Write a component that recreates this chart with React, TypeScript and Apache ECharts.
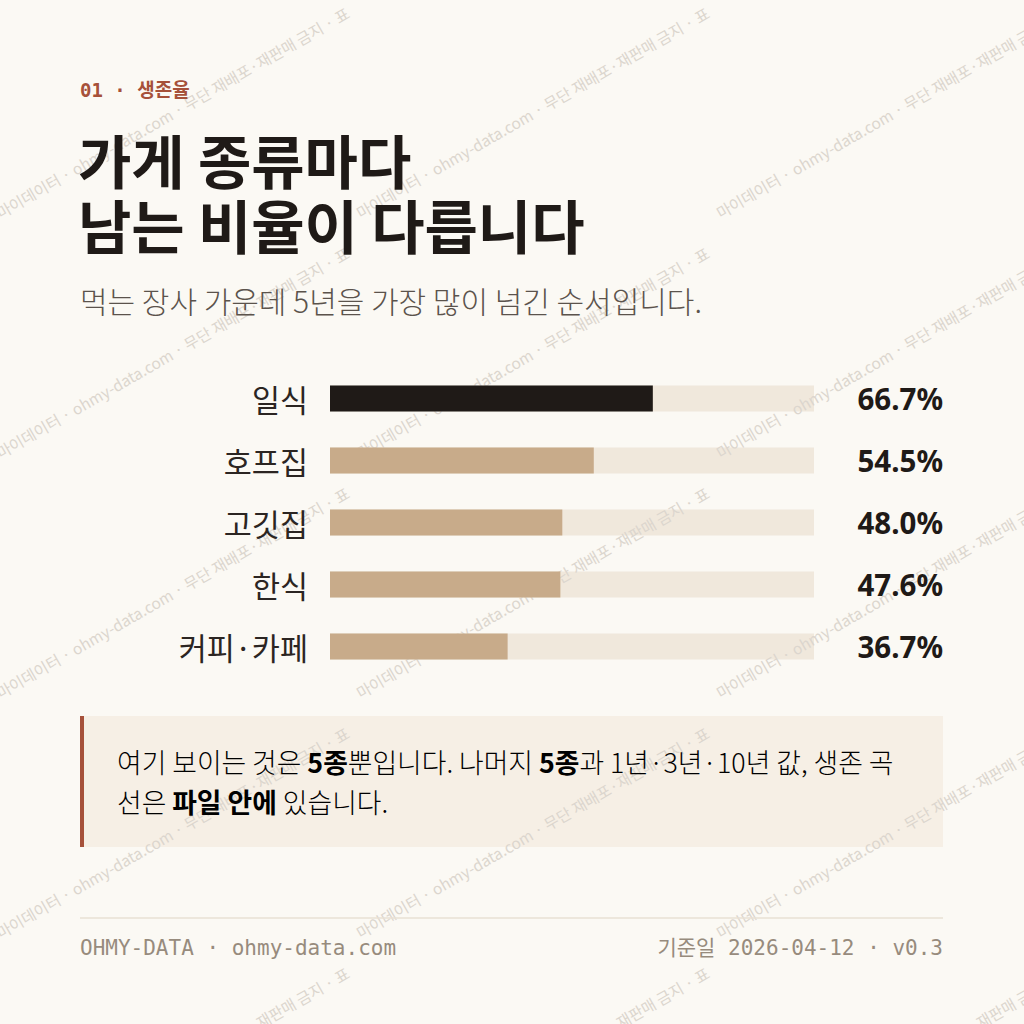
import React, { useEffect, useRef } from "react";
import * as echarts from "echarts";

// ---- data ----
const categories = ["일식", "호프집", "고깃집", "한식", "커피·카페"];
const survival5y = [66.7, 54.5, 48.0, 47.6, 36.7];
const valueLabels = survival5y.map((v) => v.toFixed(1) + "%");
const highlightIndex = 0;
const axisMax = 100;

const eyebrow = "01 · 생존율";
const titleLines = ["가게 종류마다", "남는 비율이 다릅니다"];
const subtitle = "먹는 장사 가운데 5년을 가장 많이 넘긴 순서입니다.";
const noteLine1 = "{n|여기 보이는 것은 }{b|5종}{n|뿐입니다. 나머지 }{b|5종}{n|과 1년·3년·10년 값, 생존 곡}";
const noteLine2 = "{n|선은 }{b|파일 안에}{n| 있습니다.}";
const footerLeft = "OHMY-DATA · ohmy-data.com";
const footerRight = "기준일 2026-04-12 · v0.3";
const watermarkText = "마이데이터 · ohmy-data.com · 무단 재배포·재판매 금지 · 표";

// ---- style ----
const BG = "#fbf9f4";
const INK = "#1f1a17";
const TAN = "#c8ab8a";
const TRACK = "#f0e8dc";
const RUST = "#a6513a";
const SANS = "'Noto Sans CJK KR', 'Noto Sans', sans-serif";
const MONO = "'DejaVu Sans Mono', 'Noto Sans CJK KR', monospace";

function buildWatermark() {
  const els: any[] = [];
  for (let i = 0; i < 3; i++) {
    for (let j = 0; j < 5; j++) {
      els.push({
        type: "text",
        x: i * 360 + 1,
        y: 220 + j * 240,
        rotation: Math.PI / 6,
        z: 2,
        silent: true,
        style: {
          text: watermarkText,
          font: `400 15.5px ${SANS}`,
          fill: "#dcd6ce",
          textAlign: "left",
          textVerticalAlign: "bottom",
        },
      });
    }
  }
  return els;
}

export default function App() {
  const ref = useRef<HTMLDivElement>(null);
  useEffect(() => {
    if (!ref.current) return;
    const chart = echarts.init(ref.current, undefined, { renderer: "svg" });
    const option: any = {
      animation: false,
      backgroundColor: BG,
      grid: { left: 330, width: 484, top: 367.5, height: 310 },
      xAxis: { type: "value", min: 0, max: axisMax, show: false },
      yAxis: [
        {
          type: "category",
          data: categories,
          inverse: true,
          z: 5,
          axisLine: { show: false },
          axisTick: { show: false },
          splitLine: { show: false },
          axisLabel: {
            margin: 22,
            fontSize: 30.5,
            color: "#2b2522",
            fontFamily: SANS,
          },
        },
        {
          type: "category",
          data: valueLabels,
          inverse: true,
          position: "right",
          z: 5,
          axisLine: { show: false },
          axisTick: { show: false },
          splitLine: { show: false },
          axisLabel: {
            margin: 129,
            align: "right",
            fontSize: 29.5,
            fontWeight: "bold",
            color: INK,
            fontFamily: "'Noto Sans', sans-serif",
          },
        },
      ],
      series: [
        {
          type: "bar",
          data: categories.map(() => axisMax),
          barWidth: 26,
          barGap: "-100%",
          itemStyle: { color: TRACK },
          silent: true,
          z: 1,
        },
        {
          type: "bar",
          data: survival5y.map((v, i) => ({
            value: v,
            itemStyle: { color: i === highlightIndex ? INK : TAN },
          })),
          barWidth: 26,
          barGap: "-100%",
          z: 3,
        },
      ],
      graphic: [
        ...buildWatermark(),
        {
          type: "rect",
          z: 0,
          silent: true,
          shape: { x: 80, y: 716, width: 863, height: 131 },
          style: { fill: "#f6efe5" },
        },
        {
          type: "rect",
          z: 4,
          silent: true,
          shape: { x: 80, y: 716, width: 4, height: 131 },
          style: { fill: RUST },
        },
        {
          type: "text",
          z: 5,
          x: 80,
          y: 90,
          style: {
            text: eyebrow,
            font: `bold 19px ${MONO}`,
            fill: RUST,
            textVerticalAlign: "middle",
          },
        },
        {
          type: "text",
          z: 5,
          x: 78,
          y: 159,
          style: {
            text: titleLines[0],
            font: `bold 58px ${SANS}`,
            fill: INK,
            textVerticalAlign: "middle",
          },
        },
        {
          type: "text",
          z: 5,
          x: 78,
          y: 224,
          style: {
            text: titleLines[1],
            font: `bold 58px ${SANS}`,
            fill: INK,
            textVerticalAlign: "middle",
          },
        },
        {
          type: "text",
          z: 5,
          x: 80,
          y: 300,
          style: {
            text: subtitle,
            font: `300 30px ${SANS}`,
            fill: "#5b534c",
            textVerticalAlign: "middle",
          },
        },
        {
          type: "text",
          z: 5,
          x: 117,
          y: 741,
          style: {
            text: noteLine1 + "\n" + noteLine2,
            textVerticalAlign: "top",
            rich: {
              n: { fontSize: 26.8, fontFamily: SANS, fontWeight: 300, color: "#5a524b", lineHeight: 40 },
              b: { fontSize: 26.8, fontFamily: SANS, fontWeight: "bold", color: INK, lineHeight: 40 },
            },
          },
        },
        {
          type: "line",
          z: 5,
          silent: true,
          shape: { x1: 80, y1: 918, x2: 943, y2: 918 },
          style: { stroke: "#e8e0d5", lineWidth: 1.5 },
        },
        {
          type: "text",
          z: 5,
          x: 80,
          y: 948,
          style: {
            text: footerLeft,
            font: `400 21px ${MONO}`,
            fill: "#978b7d",
            textVerticalAlign: "middle",
          },
        },
        {
          type: "text",
          z: 5,
          x: 943,
          y: 948,
          style: {
            text: footerRight,
            font: `400 21px ${MONO}`,
            fill: "#978b7d",
            textAlign: "right",
            textVerticalAlign: "middle",
          },
        },
      ],
    };
    chart.setOption(option);
    return () => chart.dispose();
  }, []);
  return (
    <div
      ref={ref}
      style={{ position: "absolute", left: 0, top: 0, width: 1024, height: 1024, background: BG }}
    />
  );
}
